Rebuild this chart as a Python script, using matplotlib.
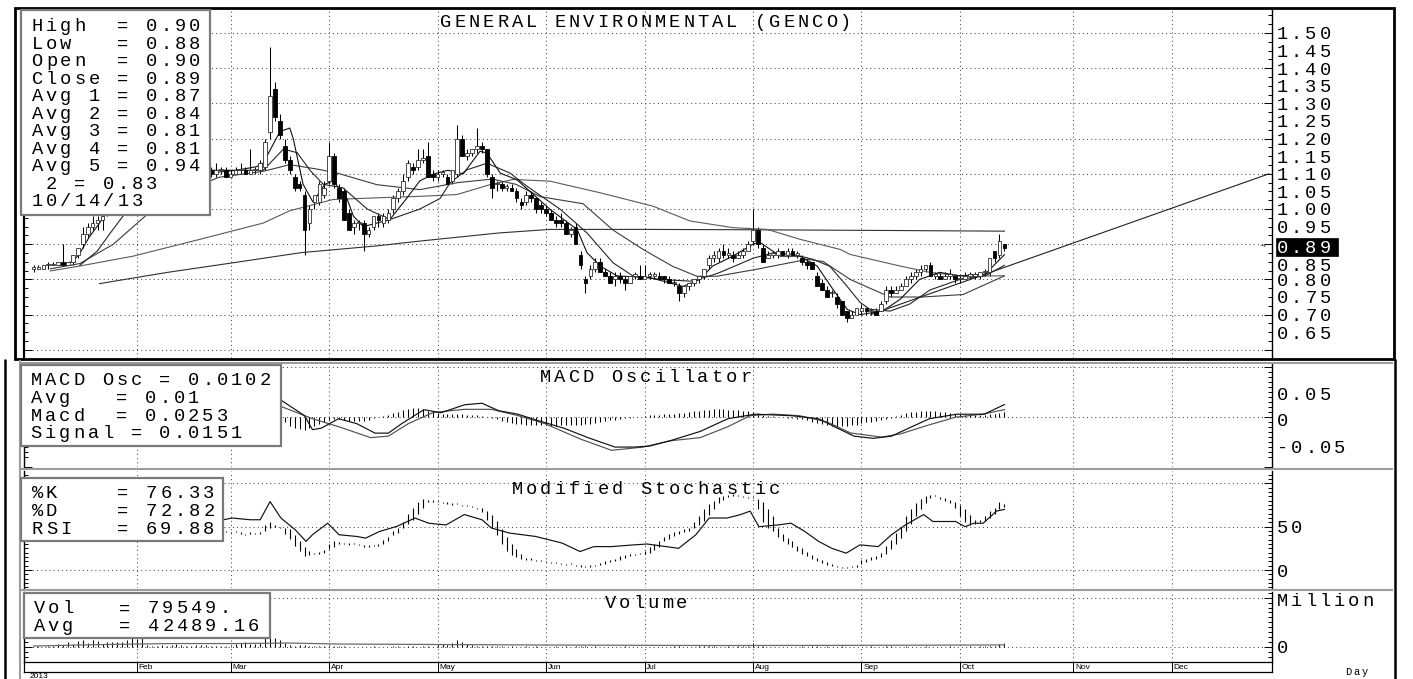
import numpy as np
import matplotlib
matplotlib.use("Agg")
import matplotlib.pyplot as plt
from matplotlib.patches import Rectangle
from matplotlib.lines import Line2D

# ---------------- data ----------------
# one entry per trading session, Jan 2 2013 .. Oct 14 2013
opens = [
    0.83, 0.83, 0.83, 0.84, 0.84, 0.84, 0.85, 0.84, 0.85, 0.87, 0.90, 0.93, 0.95, 0.96, 0.97, 0.99, 1.01, 1.03, 1.05, 1.07, 1.08, 1.10,
    1.09, 1.10, 1.11, 1.10, 1.11, 1.12, 1.11, 1.10, 1.11, 1.12, 1.11, 1.11, 1.11, 1.12, 1.11, 1.10, 1.11, 1.11, 1.09,
    1.10, 1.11, 1.11, 1.10, 1.11, 1.11, 1.12, 1.22, 1.34, 1.25, 1.18, 1.14, 1.09, 1.07, 1.04, 0.96, 1.02, 1.02, 1.04, 1.08, 1.15,
    1.06, 1.05, 0.99, 0.95, 0.96, 0.96, 0.93, 0.95, 0.98, 0.96, 0.97, 1.00, 1.03, 1.05, 1.09, 1.12, 1.12, 1.14, 1.15, 1.10,
    1.09, 1.10, 1.09, 1.08, 1.10, 1.20, 1.15, 1.16, 1.17, 1.18, 1.17, 1.09, 1.07, 1.07, 1.06, 1.06, 1.05, 1.02, 1.02, 1.04, 1.03, 1.01, 1.00,
    0.99, 0.97, 0.97, 0.96, 0.93, 0.95, 0.87, 0.80, 0.81, 0.83, 0.85, 0.82, 0.81, 0.80, 0.81, 0.80, 0.79, 0.81, 0.81, 0.80,
    0.81, 0.81, 0.81, 0.81, 0.80, 0.79, 0.78, 0.76, 0.78, 0.79, 0.80, 0.81, 0.84, 0.86, 0.86, 0.88, 0.87, 0.87, 0.86, 0.87, 0.88, 0.91,
    0.94, 0.89, 0.86, 0.87, 0.87, 0.88, 0.87, 0.88, 0.87, 0.86, 0.85, 0.85, 0.81, 0.79, 0.77, 0.76, 0.75, 0.74, 0.71, 0.69, 0.70,
    0.71, 0.72, 0.71, 0.71, 0.71, 0.74, 0.77, 0.76, 0.77, 0.78, 0.80, 0.81, 0.82, 0.83, 0.84, 0.81, 0.81, 0.80, 0.81, 0.81,
    0.80, 0.80, 0.81, 0.81, 0.81, 0.82, 0.82, 0.88, 0.87, 0.90,
]
highs = [
    0.84, 0.84, 0.84, 0.85, 0.85, 0.85, 0.90, 0.85, 0.87, 0.89, 0.95, 0.96, 0.98, 0.98, 0.99, 1.02, 1.04, 1.06, 1.08, 1.10, 1.12, 1.12,
    1.11, 1.12, 1.12, 1.12, 1.13, 1.14, 1.12, 1.12, 1.13, 1.13, 1.12, 1.12, 1.13, 1.13, 1.12, 1.13, 1.12, 1.12, 1.11,
    1.12, 1.13, 1.12, 1.17, 1.12, 1.14, 1.20, 1.46, 1.36, 1.27, 1.20, 1.15, 1.10, 1.08, 1.05, 1.01, 1.04, 1.08, 1.08, 1.19, 1.16,
    1.07, 1.06, 1.00, 0.97, 0.97, 0.97, 0.95, 0.98, 0.99, 0.99, 1.00, 1.04, 1.06, 1.10, 1.14, 1.13, 1.17, 1.17, 1.19, 1.11,
    1.11, 1.11, 1.10, 1.11, 1.24, 1.21, 1.17, 1.17, 1.23, 1.19, 1.17, 1.10, 1.08, 1.08, 1.07, 1.07, 1.06, 1.03, 1.05, 1.05, 1.03, 1.02, 1.01,
    1.00, 0.98, 0.99, 0.97, 0.95, 0.96, 0.88, 0.81, 0.84, 0.86, 0.86, 0.83, 0.82, 0.82, 0.82, 0.81, 0.81, 0.82, 0.84, 0.84,
    0.82, 0.82, 0.82, 0.81, 0.81, 0.80, 0.79, 0.78, 0.79, 0.80, 0.81, 0.83, 0.87, 0.88, 0.89, 0.90, 0.89, 0.88, 0.88, 0.89, 0.91, 1.00,
    0.95, 0.90, 0.88, 0.88, 0.89, 0.88, 0.89, 0.89, 0.88, 0.87, 0.86, 0.85, 0.82, 0.80, 0.78, 0.77, 0.76, 0.74, 0.71, 0.71, 0.72,
    0.73, 0.72, 0.72, 0.72, 0.74, 0.78, 0.78, 0.78, 0.79, 0.81, 0.82, 0.83, 0.84, 0.84, 0.85, 0.82, 0.82, 0.82, 0.83, 0.81,
    0.81, 0.82, 0.82, 0.82, 0.82, 0.83, 0.86, 0.88, 0.93, 0.90,
]
lows = [
    0.82, 0.83, 0.83, 0.83, 0.84, 0.84, 0.84, 0.84, 0.84, 0.86, 0.89, 0.92, 0.94, 0.94, 0.94, 0.98, 1.00, 1.02, 1.04, 1.06, 1.07, 1.08,
    1.08, 1.09, 1.09, 1.09, 1.10, 1.10, 1.09, 1.09, 1.10, 1.10, 1.09, 1.10, 1.10, 1.10, 1.09, 1.09, 1.10, 1.09, 1.09,
    1.10, 1.10, 1.10, 1.10, 1.10, 1.10, 1.11, 1.20, 1.25, 1.20, 1.13, 1.10, 1.05, 1.05, 0.87, 0.94, 1.00, 1.01, 1.03, 1.07, 1.06,
    1.02, 0.97, 0.94, 0.93, 0.94, 0.88, 0.92, 0.94, 0.95, 0.95, 0.96, 0.99, 1.02, 1.04, 1.08, 1.10, 1.11, 1.13, 1.09, 1.08,
    1.08, 1.09, 1.07, 1.07, 1.09, 1.15, 1.14, 1.15, 1.16, 1.16, 1.09, 1.03, 1.05, 1.05, 1.05, 1.05, 1.02, 1.00, 1.01, 1.02, 0.99, 0.99, 0.98,
    0.97, 0.95, 0.95, 0.93, 0.92, 0.90, 0.83, 0.76, 0.80, 0.82, 0.82, 0.81, 0.79, 0.78, 0.79, 0.77, 0.79, 0.80, 0.80, 0.80,
    0.80, 0.80, 0.80, 0.79, 0.79, 0.78, 0.74, 0.75, 0.77, 0.78, 0.79, 0.80, 0.83, 0.85, 0.85, 0.86, 0.86, 0.85, 0.86, 0.86, 0.88, 0.90,
    0.89, 0.85, 0.86, 0.86, 0.86, 0.87, 0.86, 0.87, 0.86, 0.84, 0.83, 0.83, 0.78, 0.77, 0.75, 0.75, 0.72, 0.70, 0.68, 0.69, 0.70,
    0.70, 0.70, 0.70, 0.70, 0.71, 0.73, 0.75, 0.76, 0.77, 0.78, 0.79, 0.80, 0.81, 0.82, 0.81, 0.80, 0.80, 0.80, 0.80, 0.79,
    0.79, 0.80, 0.80, 0.80, 0.80, 0.81, 0.81, 0.85, 0.86, 0.88,
]
closes = [
    0.83, 0.83, 0.84, 0.84, 0.84, 0.85, 0.84, 0.85, 0.87, 0.89, 0.93, 0.95, 0.96, 0.97, 0.98, 1.01, 1.03, 1.05, 1.07, 1.08, 1.10, 1.09,
    1.10, 1.11, 1.10, 1.11, 1.12, 1.11, 1.10, 1.11, 1.12, 1.11, 1.10, 1.11, 1.12, 1.11, 1.10, 1.11, 1.11, 1.09, 1.10,
    1.11, 1.11, 1.10, 1.11, 1.11, 1.13, 1.19, 1.32, 1.26, 1.21, 1.14, 1.11, 1.06, 1.06, 0.94, 1.00, 1.04, 1.07, 1.06, 1.15, 1.07,
    1.03, 0.97, 0.94, 0.96, 0.96, 0.93, 0.94, 0.98, 0.97, 0.98, 0.99, 1.03, 1.05, 1.08, 1.13, 1.11, 1.14, 1.14, 1.09, 1.09,
    1.10, 1.10, 1.07, 1.11, 1.20, 1.15, 1.16, 1.17, 1.18, 1.17, 1.10, 1.06, 1.07, 1.06, 1.06, 1.05, 1.03, 1.01, 1.04, 1.03, 1.00, 1.00, 0.99,
    0.97, 0.96, 0.96, 0.93, 0.94, 0.90, 0.84, 0.79, 0.83, 0.85, 0.82, 0.81, 0.79, 0.81, 0.80, 0.79, 0.81, 0.81, 0.80, 0.81,
    0.81, 0.81, 0.80, 0.80, 0.79, 0.79, 0.76, 0.78, 0.79, 0.80, 0.81, 0.83, 0.86, 0.87, 0.88, 0.87, 0.87, 0.86, 0.87, 0.88, 0.90, 0.94,
    0.90, 0.85, 0.87, 0.87, 0.88, 0.87, 0.88, 0.87, 0.87, 0.85, 0.84, 0.83, 0.78, 0.77, 0.75, 0.76, 0.73, 0.70, 0.69, 0.70, 0.72,
    0.72, 0.71, 0.71, 0.70, 0.73, 0.77, 0.76, 0.77, 0.78, 0.80, 0.81, 0.82, 0.83, 0.84, 0.81, 0.81, 0.80, 0.81, 0.81, 0.80,
    0.80, 0.81, 0.81, 0.81, 0.82, 0.82, 0.86, 0.86, 0.91, 0.89,
]
# volume in thousands of shares
volumes_k = [
    10, 15, 10, 20, 15, 60, 40, 100, 60, 120, 150, 80, 150, 120, 60, 100, 100, 100, 110, 150, 180, 160,
    180, 40, 30, 25, 35, 20, 50, 60, 40, 20, 15, 40, 35, 40, 30, 25, 30, 30, 25,
    60, 80, 100, 60, 70, 90, 200, 220, 180, 150, 90, 40, 30, 35, 40, 30, 25, 20, 30, 25, 20,
    15, 20, 10, 10, 8, 10, 8, 12, 10, 8, 10, 12, 15, 10, 15, 12, 10, 12, 15, 10,
    40, 60, 50, 80, 150, 100, 60, 40, 30, 20, 15, 25, 20, 15, 10, 15, 10, 10, 12, 10, 15, 10, 10,
    10, 12, 10, 15, 10, 20, 25, 15, 10, 12, 10, 8, 10, 8, 10, 12, 8, 10, 10, 8,
    10, 8, 6, 8, 10, 12, 15, 10, 8, 10, 12, 15, 20, 15, 10, 10, 12, 10, 15, 20, 30, 90,
    30, 20, 10, 10, 10, 8, 10, 8, 10, 12, 10, 12, 15, 10, 12, 10, 8, 12, 10, 8, 10,
    8, 10, 12, 8, 10, 15, 12, 10, 8, 12, 10, 8, 10, 12, 8, 10, 8, 10, 12, 10,
    8, 10, 12, 10, 15, 20, 25, 30, 60, 80,
]
# stochastic %K and %D per session
stoch_k = [
    50, 50, 55, 55, 60, 60, 65, 60, 70, 80, 85, 88, 90, 88, 90, 92, 92, 90, 92, 90, 92, 88,
    85, 80, 75, 70, 65, 60, 58, 55, 55, 52, 50, 48, 47, 46, 45, 44, 45, 44, 43,
    44, 42, 40, 42, 41, 44, 52, 55, 52, 48, 42, 36, 28, 22, 16, 17, 18, 21, 23, 30, 33,
    32, 30, 29, 30, 29, 27, 27, 29, 30, 35, 38, 45, 48, 55, 65, 72, 78, 82, 80, 79,
    78, 77, 76, 75, 76, 74, 74, 73, 70, 67, 58, 48, 40, 30, 22, 17, 15, 13, 11, 12, 10, 10, 9,
    8, 8, 7, 6, 7, 5, 4, 3, 4, 6, 8, 10, 11, 13, 16, 17, 18, 18, 19, 22,
    26, 30, 33, 38, 42, 44, 45, 47, 49, 55, 62, 70, 76, 80, 84, 86, 87, 86, 85, 84, 83, 83,
    70, 55, 48, 45, 38, 33, 30, 26, 22, 19, 16, 13, 10, 8, 6, 5, 3, 2, 2, 3, 5,
    11, 13, 15, 16, 20, 28, 35, 43, 50, 62, 70, 77, 82, 86, 87, 85, 82, 80, 77, 72,
    62, 55, 52, 53, 58, 62, 68, 72, 78, 76,
]
stoch_d = [
    50, 50, 52, 54, 57, 58, 62, 62, 65, 72, 78, 84, 88, 89, 89, 90, 91, 91, 91, 91, 91, 90,
    88, 84, 80, 75, 70, 65, 61, 58, 56, 54, 52, 49, 48, 47, 46, 45, 45, 45, 44,
    44, 43, 42, 42, 42, 42, 45, 48, 50, 50, 48, 47, 40, 33, 27, 22, 19, 19, 20, 24, 27,
    30, 31, 31, 30, 29, 29, 28, 28, 28, 30, 33, 40, 43, 48, 53, 58, 65, 72, 79, 80,
    80, 79, 78, 77, 76, 75, 75, 74, 72, 71, 68, 63, 56, 47, 38, 30, 24, 18, 14, 13, 12, 11, 10,
    9, 8, 8, 7, 7, 6, 5, 4, 4, 5, 6, 7, 9, 10, 12, 14, 16, 17, 18, 18,
    20, 23, 27, 33, 36, 39, 42, 44, 45, 48, 52, 57, 63, 70, 77, 81, 84, 86, 86, 85, 84, 83,
    82, 78, 70, 62, 48, 42, 37, 33, 28, 25, 21, 17, 14, 11, 9, 7, 5, 4, 3, 3, 4,
    7, 9, 11, 13, 15, 19, 24, 30, 37, 45, 53, 62, 70, 77, 83, 85, 84, 83, 81, 78,
    75, 70, 64, 58, 55, 57, 60, 65, 70, 73,
]
# MACD oscillator (thousandths) per session, from Mar 1 on
macd_osc_milli = [
    5, 6, 6, 5, 5, 6, 10, 15, 12, -5, -10, -18, -22, -24, -25, -22, -18, -14, -10, -6, -4,
    -3, -5, -7, -8, -8, -7, -6, -2, 0, 3, 5, 9, 11, 14, 17, 19, 19, 17, 13, 10,
    8, 7, 6, 6, 7, 6, 5, 5, 4, 3, 1, -2, -4, -8, -10, -12, -13, -14, -15, -16, -16, -16, -16,
    -17, -17, -16, -16, -15, -15, -15, -14, -13, -12, -10, -8, -6, -5, -4, -2, -1, 0, 1, 2,
    4, 5, 5, 6, 7, 7, 8, 9, 10, 12, 13, 14, 15, 16, 16, 16, 15, 15, 14, 13, 12, 11,
    8, 5, 3, 2, 1, 0, -1, -2, -3, -4, -6, -9, -12, -14, -16, -17, -18, -18, -17, -16, -15,
    -12, -10, -9, -7, -5, -3, -1, 2, 4, 8, 10, 11, 12, 13, 13, 12, 11, 10, 9, 7,
    6, 5, 4, 4, 4, 5, 6, 7, 9, 10,
]

# moving averages (session index, price)
avg1_x = [5.1, 7.8, 9.2, 11.3, 13.4, 15.4, 20.3, 27.2, 34.2, 41.1, 45.2, 46.6, 50.0, 52.0, 52.7, 54.7, 56.7, 59.1, 60.8, 63.6,
          64.9, 66.9, 69.7, 72.3, 75.7, 78.4, 81.3, 84.1, 87.2, 90.6, 92.0, 94.7, 98.1, 104.8, 110.3, 112.3, 115.0, 118.4, 125.1, 131.8,
          135.2, 137.8, 141.9, 146.0, 147.4, 151.5, 155.5, 159.0, 162.2, 165.1, 167.7, 172.3, 175.8, 179.8, 183.9, 188.0, 193.1, 197]
avg1_y = [0.84, 0.85, 0.87, 0.92, 0.96, 1.0, 1.07, 1.10, 1.11, 1.11, 1.12, 1.13, 1.22, 1.23, 1.20, 1.07, 1.02, 1.07, 1.08, 1.03,
          0.98, 0.95, 0.96, 0.97, 1.03, 1.08, 1.10, 1.11, 1.10, 1.164, 1.159, 1.102, 1.083, 0.999, 0.942, 0.876, 0.838, 0.81, 0.805, 0.78,
          0.80, 0.838, 0.866, 0.90, 0.905, 0.866, 0.866, 0.838, 0.772, 0.715, 0.70, 0.71, 0.743, 0.80, 0.82, 0.81, 0.815, 0.87]
avg2_x = [9.4, 12.9, 15.5, 20.3, 27.2, 34.2, 41.1, 46.6, 50.7, 53.5, 56.1, 58.8, 62.8, 67.7, 72.3, 78.4, 82.5, 84.5, 87.9, 92.0,
          96.7, 100.1, 106.9, 112.3, 117.6, 121.6, 127.0, 133.3, 137.3, 139.3, 146.0, 150.0, 154.1, 158.2, 161.6, 165.1, 167.7, 169.7,
          173.8, 177.8, 181.9, 188.0, 193.1, 197]
avg2_y = [0.84, 0.88, 0.93, 1.02, 1.08, 1.10, 1.11, 1.11, 1.17, 1.16, 1.11, 1.07, 1.06, 1.0, 0.97, 1.0, 1.03, 1.074, 1.111, 1.13,
          1.102, 1.065, 0.999, 0.932, 0.847, 0.81, 0.80, 0.795, 0.81, 0.82, 0.86, 0.875, 0.871, 0.857, 0.837, 0.78, 0.735, 0.715,
          0.71, 0.73, 0.77, 0.80, 0.81, 0.84]
avg3_x = [3.4, 9.4, 16.2, 23.1, 30.7, 37.6, 46.6, 52.0, 58.1, 61.6, 69.7, 78.4, 86.1, 93.1, 97.9, 102.8, 111.5, 117.6, 123.7, 129.7,
          134.6, 138.7, 146.8, 157.0, 160.2, 165.7, 169.7, 173.8, 180.4, 188.6, 197]
avg3_y = [0.83, 0.845, 0.90, 0.985, 1.05, 1.09, 1.107, 1.126, 1.112, 1.102, 1.069, 1.055, 1.075, 1.085, 1.07, 1.035, 1.015, 0.94,
          0.885, 0.837, 0.809, 0.809, 0.829, 0.857, 0.851, 0.80, 0.775, 0.75, 0.75, 0.757, 0.81]
avg4_x = [3.4, 9.4, 20.2, 33.8, 46.6, 52.0, 60.8, 70.2, 78.5, 85.9, 92.6, 97.3, 104.8, 115.0, 125.7, 133.2, 141.9, 148.9, 155.5,
          163.7, 165.7, 175.8, 181.9, 188.0, 197]
avg4_y = [0.824, 0.838, 0.866, 0.914, 0.96, 0.995, 1.027, 1.032, 1.036, 1.041, 1.069, 1.084, 1.079, 1.046, 1.008, 0.966, 0.947,
          0.942, 0.914, 0.885, 0.871, 0.838, 0.82, 0.81, 0.81]
avg5_x = [13.4, 27.2, 40.4, 54.3, 69.5, 78.5, 94.5, 104.8, 124.3, 145.0, 172.8, 197]
avg5_y = [0.788, 0.82, 0.847, 0.876, 0.895, 0.909, 0.932, 0.942, 0.942, 0.941, 0.939, 0.937]
trend_x = [169.9, 250.7]
trend_y = [0.70, 1.10]

macd_x = [41.1, 45.2, 50.1, 55.0, 56.6, 58.4, 61.9, 65.6, 69.3, 72.0, 74.7, 79.2, 82.7, 87.5, 91.0, 94.4, 98.3, 102.1, 107.6,
          112.5, 118.0, 121.8, 125.0, 129.1, 135.3, 140.9, 146.4, 153.8, 159.3, 163.1, 166.5, 170.4, 174.1, 177.6, 181.8, 187.3,
          192.9, 197]
macd_y = [0.02, 0.025, 0.035, 0.003, -0.025, -0.022, -0.003, -0.013, -0.032, -0.032, -0.013, 0.015, 0.009, 0.025, 0.028, 0.013,
          0.006, -0.006, -0.022, -0.041, -0.060, -0.060, -0.058, -0.0475, -0.0285, -0.003, 0.006, 0.003, -0.003, -0.022, -0.038,
          -0.0425, -0.038, -0.022, -0.003, 0.006, 0.006, 0.0253]
signal_x = [41.1, 50.1, 56.6, 61.9, 68.4, 72.0, 76.1, 81.1, 87.4, 92.9, 98.3, 103.7, 111.0, 117.3, 123.7, 129.1, 135.3, 140.9,
            145.4, 149.9, 155.4, 161.0, 165.8, 172.1, 175.9, 181.6, 187.1, 192.7, 197]
signal_y = [0.015, 0.022, -0.003, -0.019, -0.041, -0.038, -0.0127, 0.0095, 0.0158, 0.0158, 0.0032, -0.0127, -0.044, -0.0665,
            -0.060, -0.0475, -0.041, -0.019, 0.003, 0.0063, 0.003, -0.0095, -0.0317, -0.040, -0.0336, -0.0158, 0.0, 0.0063, 0.0151]

rsi_x = [0, 6.4, 13.4, 20.3, 30.7, 38.5, 40.3, 44.0, 46.0, 48.0, 50.2, 53.1, 55.3, 56.6, 59.7, 62.0, 65.6, 67.4, 70.2, 73.7,
         77.4, 80.2, 83.7, 87.4, 91.0, 92.9, 96.5, 101.9, 107.3, 110.9, 113.7, 117.3, 121.8, 124.5, 130.9, 134.4, 137.1, 140.7,
         143.5, 145.4, 147.2, 151.0, 153.7, 156.5, 159.3, 162.0, 164.9, 167.7, 171.4, 174.1, 176.9, 180.6, 182.5, 187.1, 189.0,
         190.8, 192.7, 195.4, 197]
rsi_y = [55, 60, 75, 80, 70, 58, 60, 58, 58, 79, 60, 46.5, 33, 40.7, 54, 40.7, 38.7, 36.8, 44.5, 50.3,
         60, 54, 52, 64, 58, 48.5, 42.7, 38.7, 31, 21.3, 27, 27, 29, 30, 25, 40.7, 60, 60,
         64, 68, 50, 52, 54, 44.5, 33, 25, 19.4, 29, 27, 40.7, 52, 64, 56, 56, 50,
         54, 54, 68, 70]

vol_avg_x = [0, 14, 28, 41, 52, 62, 83, 104, 138, 173, 197]
vol_avg_m = [0.02, 0.05, 0.07, 0.07, 0.08, 0.06, 0.05, 0.04, 0.03, 0.035, 0.042]

month_idx = [21, 40, 60, 82, 104, 124, 146, 168, 188, 211, 231]
month_names = ["Feb", "Mar", "Apr", "May", "Jun", "Jul", "Aug", "Sep", "Oct", "Nov", "Dec"]

price_legend = ["High  = 0.90", "Low   = 0.88", "Open  = 0.90", "Close = 0.89", "Avg 1 = 0.87",
                "Avg 2 = 0.84", "Avg 3 = 0.81", "Avg 4 = 0.81", "Avg 5 = 0.94", " 2 = 0.83", "10/14/13"]
macd_legend = ["MACD Osc = 0.0102", "Avg   = 0.01", "Macd  = 0.0253", "Signal = 0.0151"]
stoch_legend = ["%K    = 76.33", "%D    = 72.82", "RSI   = 69.88"]
vol_legend = ["Vol   = 79549.", "Avg   = 42489.16"]
price_labels = ["1.50", "1.45", "1.40", "1.35", "1.30", "1.25", "1.20", "1.15", "1.10",
                "1.05", "1.00", "0.95", "", "0.85", "0.80", "0.75", "0.70", "0.65"]

# ---------------- layout helpers (pixel coordinates) ----------------
W, H = 1413, 679
fig = plt.figure(figsize=(W / 100, H / 100), dpi=100)
fig.patch.set_facecolor("white")
MONO = ["Liberation Mono", "DejaVu Sans Mono"]
GRID = dict(color="#4a4a4a", lw=0.75, linestyle=(0, (1, 3)))
X0, X1 = -1.93, 251.3


def add_ax(x0, y0, x1, y1):
    return fig.add_axes([x0 / W, 1 - y1 / H, (x1 - x0) / W, (y1 - y0) / H])


def mono(x, y, s, cw=14.3, size=13.5, color="black", z=5):
    # fixed-width cells, y is the middle of the capitals
    off = size * 0.458
    for i, ch in enumerate(s):
        if ch == " ":
            continue
        fig.text((x + (i + 0.5) * cw) / W, 1 - (y + off) / H, ch, ha="center", va="baseline",
                 fontsize=size, family=MONO, color=color, zorder=z)


def box(x0, y0, x1, y1, face="white", edge="#7a7a7a", lw=1.6, z=4):
    fig.add_artist(Rectangle((x0 / W, 1 - y1 / H), (x1 - x0) / W, (y1 - y0) / H,
                             transform=fig.transFigure, facecolor=face, edgecolor=edge, lw=lw, zorder=z))


def fline(xs, ys, color="black", lw=1.0, z=3):
    fig.add_artist(Line2D([v / W for v in xs], [1 - v / H for v in ys], transform=fig.transFigure,
                          color=color, lw=lw, zorder=z, solid_capstyle="butt"))


def style(ax, ylim, major, minor, left_lw=1.0):
    ax.set_xlim(X0, X1)
    ax.set_ylim(*ylim)
    ax.set_xticks(month_idx)
    ax.set_yticks(major)
    ax.set_yticks(minor, minor=True)
    ax.set_axisbelow(True)
    ax.grid(True, which="major", **GRID)
    ax.tick_params(axis="x", length=0, labelbottom=False)
    ax.tick_params(axis="y", which="both", direction="in", left=True, right=True,
                   labelleft=False, labelright=False, width=0.7, color="black")
    ax.tick_params(axis="y", which="major", length=6)
    ax.tick_params(axis="y", which="minor", length=3)
    for s in ("top", "bottom"):
        ax.spines[s].set_visible(False)
    ax.spines["left"].set_linewidth(left_lw)
    ax.spines["right"].set_linewidth(1.0)


x = np.arange(len(closes))
o, h, l, c = map(np.array, (opens, highs, lows, closes))

# ---------------- price panel ----------------
ax_p = add_ax(24, 10, 1272, 358)
style(ax_p, (0.5767, 1.5653), np.arange(0.6, 1.51, 0.1), np.arange(0.6, 1.56, 0.025), left_lw=1.6)
ax_p.vlines(x, l, h, color="black", lw=0.75, zorder=2)
up = c >= o
lo = np.minimum(o, c)
hgt = np.maximum(np.abs(c - o), 0.004)
ax_p.bar(x[up], hgt[up], bottom=lo[up], width=0.75, color="white", edgecolor="#303030", lw=0.6, zorder=3)
ax_p.bar(x[~up], hgt[~up], bottom=lo[~up], width=0.75, color="black", edgecolor="black", lw=0.6, zorder=3)
for xs, ys, col in ((avg5_x, avg5_y, "#303030"), (avg4_x, avg4_y, "#5a5a5a"), (avg3_x, avg3_y, "#3c3c3c"),
                    (avg2_x, avg2_y, "#262626"), (avg1_x, avg1_y, "#111111")):
    ax_p.plot(xs, ys, color=col, lw=0.8, zorder=2.5)
ax_p.plot(trend_x, trend_y, color="#202020", lw=0.8, zorder=2.5)

# ---------------- MACD panel ----------------
ax_m = add_ax(24, 364, 1272, 467)
style(ax_m, (-0.0886, 0.1068), [-0.1, 0.0, 0.1], np.arange(-0.08, 0.105, 0.01))
osc_x = x[-len(macd_osc_milli):]
ax_m.vlines(osc_x, 0, np.array(macd_osc_milli) / 1000.0, color="black", lw=0.75, zorder=2)
ax_m.plot(signal_x, signal_y, color="#505050", lw=0.85, zorder=3)
ax_m.plot(macd_x, macd_y, color="#111111", lw=0.85, zorder=3)

# ---------------- stochastic panel ----------------
ax_s = add_ax(24, 471, 1272, 588)
style(ax_s, (-20.8, 114.3), [0, 50, 100], np.arange(-20, 115, 5))
k = np.array(stoch_k, float)
d = np.array(stoch_d, float)
s_lo = np.minimum(k, d)
s_hi = np.maximum(np.maximum(k, d), s_lo + 1.3)
ax_s.vlines(x, s_lo, s_hi, color="black", lw=0.8, zorder=2)
ax_s.plot(rsi_x, rsi_y, color="#111111", lw=0.85, zorder=3)

# ---------------- volume panel ----------------
ax_v = add_ax(24, 592, 1272, 662)
style(ax_v, (-0.3043, 1.1156), [0, 1], np.arange(-0.3, 1.12, 0.1))
ax_v.vlines(x, 0, np.array(volumes_k) / 1000.0, color="black", lw=0.75, zorder=2)
ax_v.plot(vol_avg_x, vol_avg_m, color="#6a6a6a", lw=0.9, zorder=3)

# ---------------- date strip ----------------
ax_d = add_ax(24, 662, 1272, 672)
ax_d.set_xlim(X0, X1)
ax_d.set_ylim(0, 1)
ax_d.set_xticks([])
ax_d.set_yticks([])
for s in ax_d.spines.values():
    s.set_linewidth(0.9)
ax_d.vlines(month_idx, 0, 1, color="black", lw=0.7)
for m, name in zip(month_idx, month_names):
    ax_d.text(m + 0.35, 0.42, name, fontsize=6, family="Liberation Sans", va="center", ha="left")
fig.text(30 / W, 1 - 677 / H, "2013", fontsize=6, family="Liberation Sans", va="center", ha="left")

# ---------------- frames ----------------
box(15, 8, 1394, 359, face="none", edge="black", lw=2.0, z=3)
fline([5, 5], [359, 679], lw=1.8)
fline([1394.5, 1394.5], [359, 679], lw=1.8)
for yy in (362.5, 469, 589.5):
    fline([20, 1393], [yy, yy], color="#9c9c9c", lw=1.5)
fline([20, 20], [360, 679], color="#9c9c9c", lw=1.5)

# ---------------- legends ----------------
box(21, 10, 210, 215)
for i, t in enumerate(price_legend):
    mono(30, 25 + i * 17.5, t)
box(21, 365, 281, 446)
for i, t in enumerate(macd_legend):
    mono(29, 379 + i * 17.7, t)
box(21, 478, 223, 541)
for i, t in enumerate(stoch_legend):
    mono(30, 491.7 + i * 17.9, t)
box(24, 593, 270, 638)
for i, t in enumerate(vol_legend):
    mono(32, 607.3 + i * 17.7, t)

# ---------------- titles ----------------
mono(438.5, 20.7, "GENERAL ENVIRONMENTAL (GENCO)")
mono(538.5, 375.7, "MACD Oscillator")
mono(510, 488.3, "Modified Stochastic")
mono(603, 601.7, "Volume")

# ---------------- right-hand scale labels ----------------
for i, t in enumerate(price_labels):
    if not t:
        continue
    yy = 33.3 + i * 17.6
    if t == "0.85":
        yy += 2.5          # sits just under the highlighted close
    mono(1275, yy, t)
box(1276, 237.5, 1338, 255.5, face="black", edge="black", lw=0.5, z=6)
mono(1275, 246.5, "0.89", color="white", z=7)
fig.text(1263 / W, 1 - 247 / H, "\u2192", fontsize=5, color="#444444", ha="center", va="center")
mono(1275, 394.3, "0.05")
mono(1275, 420.3, "0")
mono(1275, 446.7, "-0.05")
mono(1275, 527, "50")
mono(1275, 570.5, "0")
mono(1275, 600, "Million")
mono(1275, 647, "0")
mono(1344, 672, "Day", cw=8.5, size=7.5)

fig.savefig("out.png", dpi=100, facecolor="white")
